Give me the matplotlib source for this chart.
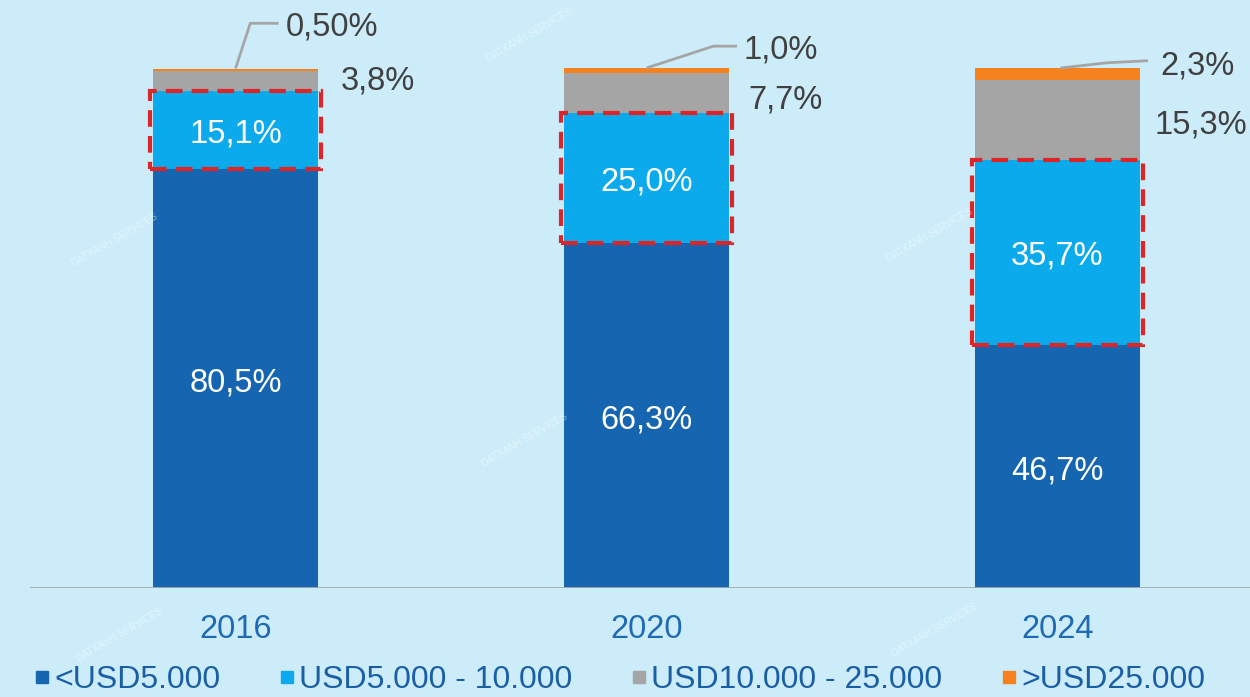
import matplotlib.pyplot as plt
from matplotlib.lines import Line2D
from matplotlib.patches import Rectangle

plt.rcParams['font.family'] = ['Liberation Sans', 'DejaVu Sans']

years = ['2016', '2020', '2024']
series = ['<USD5.000', 'USD5.000 - 10.000', 'USD10.000 - 25.000', '>USD25.000']
under_5k = [80.5, 66.3, 46.7]
from_5k_to_10k = [15.1, 25.0, 35.7]
from_10k_to_25k = [3.8, 7.7, 15.3]
over_25k = [0.50, 1.0, 2.3]
over_25k_decimals = [2, 1, 1]

colors = ['#1565B0', '#0BAAEC', '#A5A5A5', '#F5821F']
bg = '#CCECF9'
label_grey = '#404040'
tick_blue = '#1F6AB4'
legend_blue = '#1A5FA6'
fs = 23.5
dy = -0.8  # nudge text down so the digits sit centred


def pct(v, nd=1):
    return f'{v:.{nd}f}'.replace('.', ',') + '%'


fig = plt.figure(figsize=(12.5, 6.97), dpi=100, facecolor=bg)
ax = fig.add_axes([30 / 1250, 109 / 697, 1220 / 1250, 588 / 697])
ax.set_facecolor(bg)

x = list(range(len(years)))
w = 0.4
bottoms = [0.0] * len(years)
for vals, c in zip([under_5k, from_5k_to_10k, from_10k_to_25k, over_25k], colors):
    ax.bar(x, vals, width=w, bottom=bottoms, color=c, zorder=2)
    bottoms = [b + v for b, v in zip(bottoms, vals)]

# labels inside the two lower segments
for i in x:
    ax.text(i, under_5k[i] / 2 + dy, pct(under_5k[i]), color='white', fontsize=fs,
            ha='center', va='center', zorder=4)
    ax.text(i, under_5k[i] + from_5k_to_10k[i] / 2 + dy, pct(from_5k_to_10k[i]),
            color='white', fontsize=fs, ha='center', va='center', zorder=4)
    # red dashed frame around the 5.000 - 10.000 segment
    ax.add_patch(Rectangle((i - w / 2 - 0.008, under_5k[i]), w + 0.016, from_5k_to_10k[i],
                           fill=False, edgecolor='#DC2529', linewidth=3,
                           linestyle=(0, (4, 2.2)), zorder=5, clip_on=False))

# grey segment labels to the right of the bars
grey_pos = [(0.255, 98.3), (0.248, 94.6), (0.236, 89.8)]
for i in x:
    dx, y = grey_pos[i]
    ax.text(i + dx, y + dy, pct(from_10k_to_25k[i]), color=label_grey, fontsize=fs,
            ha='left', va='center')

# orange segment labels with leader lines
leaders = [
    ([0.0, 0.036, 0.105], [0, 108.6, 108.6], (0.122, 108.6)),
    ([0.0, 0.163, 0.22], [0, 104.2, 104.2], (0.235, 104.2)),
    ([0.007, 0.12, 0.22], [0, 101.0, 101.4], (0.25, 101.2)),
]
for i in x:
    xs, ys, (tx, ty) = leaders[i]
    top = under_5k[i] + from_5k_to_10k[i] + from_10k_to_25k[i] + over_25k[i]
    ys = [top] + ys[1:]
    ax.plot([i + v for v in xs], ys, color='#A5A5A5', lw=2, zorder=3,
            solid_capstyle='butt', clip_on=False)
    ax.text(i + tx, ty + dy, pct(over_25k[i], over_25k_decimals[i]), color=label_grey,
            fontsize=fs, ha='left', va='center')

ax.axhline(0, color='#A6A6A6', lw=2, zorder=3)
ax.set_xlim(-0.5, -0.5 + 1220 / 411)
ax.set_ylim(0, 588 / 5.2)
for s in ax.spines.values():
    s.set_visible(False)
ax.set_yticks([])
ax.set_xticks(x)
ax.set_xticklabels(years, fontsize=fs, color=tick_blue)
ax.tick_params(axis='x', length=0, pad=19)

# faint watermark
for fx, fy in [(530, 35), (115, 240), (525, 440), (930, 235), (120, 635), (935, 630)]:
    fig.text(fx / 1250, 1 - fy / 697, 'DATXANH SERVICES', fontsize=7, color='white',
             alpha=0.45, rotation=30, ha='center', va='center')

handles = [Line2D([], [], marker='s', linestyle='none', markersize=9,
                  markerfacecolor=c, markeredgecolor=c) for c in colors]
fig.legend(handles, series, loc='center', bbox_to_anchor=(0.4956, 17 / 697), ncol=4,
           frameon=False, fontsize=23, labelcolor=legend_blue, handlelength=0.5,
           handletextpad=0.15, columnspacing=1.82, borderaxespad=0)

fig.savefig('out.png', dpi=100, facecolor=bg)
